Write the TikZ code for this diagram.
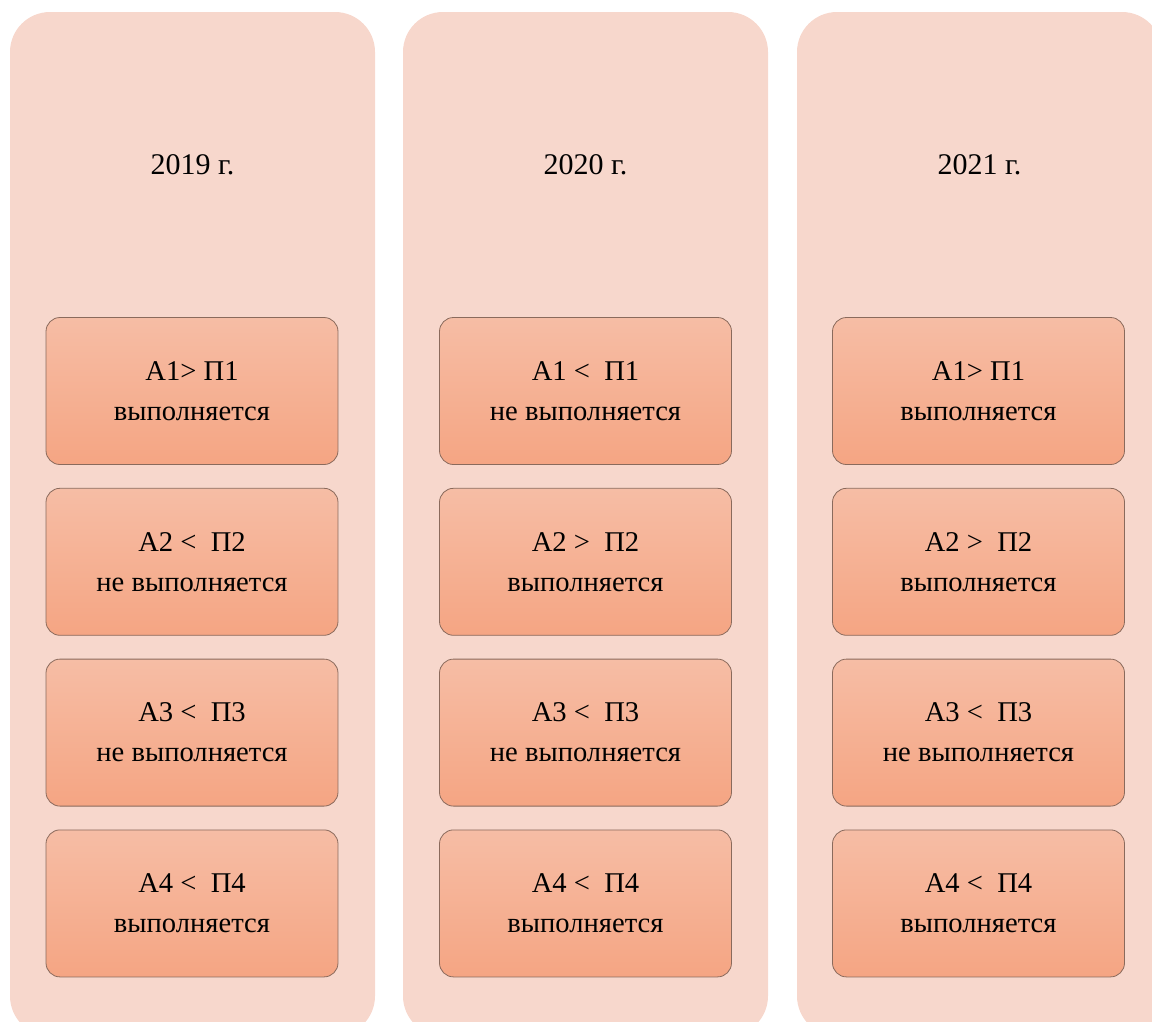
\documentclass[tikz,border=0pt]{standalone}
\usepackage{fontspec}
\setmainfont{Liberation Serif}
\usepackage{tikz}
\usetikzlibrary{positioning}
\definecolor{colfill}{HTML}{F7D7CC}
\definecolor{boxtop}{HTML}{F6BDA5}
\definecolor{boxbot}{HTML}{F5A583}
\definecolor{boxline}{HTML}{8A6A5C}

\begin{document}
\begin{tikzpicture}[x=1pt,y=-1pt,node distance=23pt,
    year col/.style={rectangle,rounded corners=40pt,fill=colfill,minimum width=365pt,minimum height=1024pt,inner sep=0pt},
    year label/.style={font=\fontsize{30}{36}\selectfont},
    cond box/.style={rectangle,rounded corners=14pt,draw=boxline,line width=0.8pt,top color=boxtop,bottom color=boxbot,
        minimum width=292pt,minimum height=147pt,align=center,font=\fontsize{28.6}{40}\selectfont}]
    \clip (0,0) rectangle (1152,1021);
    % columns
    \node[year col] (c1) at (192.5,524) {};
    \node[year col] (c2) at (585.5,524) {};
    \node[year col] (c3) at (979.5,524) {};
    \node[year label] (y1) at (192.5,165) {2019 г.};
    \node[year label] (y2) at (585.5,165) {2020 г.};
    \node[year label] (y3) at (979.5,165) {2021 г.};
    % 2019
    \node[cond box] (a11) at (192,391) {А1> П1\\выполняется};
    \node[cond box] (a12) [below=of a11] {А2 <\ \ П2\\не выполняется};
    \node[cond box] (a13) [below=of a12] {А3 <\ \ П3\\не выполняется};
    \node[cond box] (a14) [below=of a13] {А4 <\ \ П4\\выполняется};
    % 2020
    \node[cond box] (a21) at (585.5,391) {А1 <\ \ П1\\не выполняется};
    \node[cond box] (a22) [below=of a21] {А2 >\ \ П2\\выполняется};
    \node[cond box] (a23) [below=of a22] {А3 <\ \ П3\\не выполняется};
    \node[cond box] (a24) [below=of a23] {А4 <\ \ П4\\выполняется};
    % 2021
    \node[cond box] (a31) at (978.5,391) {А1> П1\\выполняется};
    \node[cond box] (a32) [below=of a31] {А2 >\ \ П2\\выполняется};
    \node[cond box] (a33) [below=of a32] {А3 <\ \ П3\\не выполняется};
    \node[cond box] (a34) [below=of a33] {А4 <\ \ П4\\выполняется};
\end{tikzpicture}
\end{document}
